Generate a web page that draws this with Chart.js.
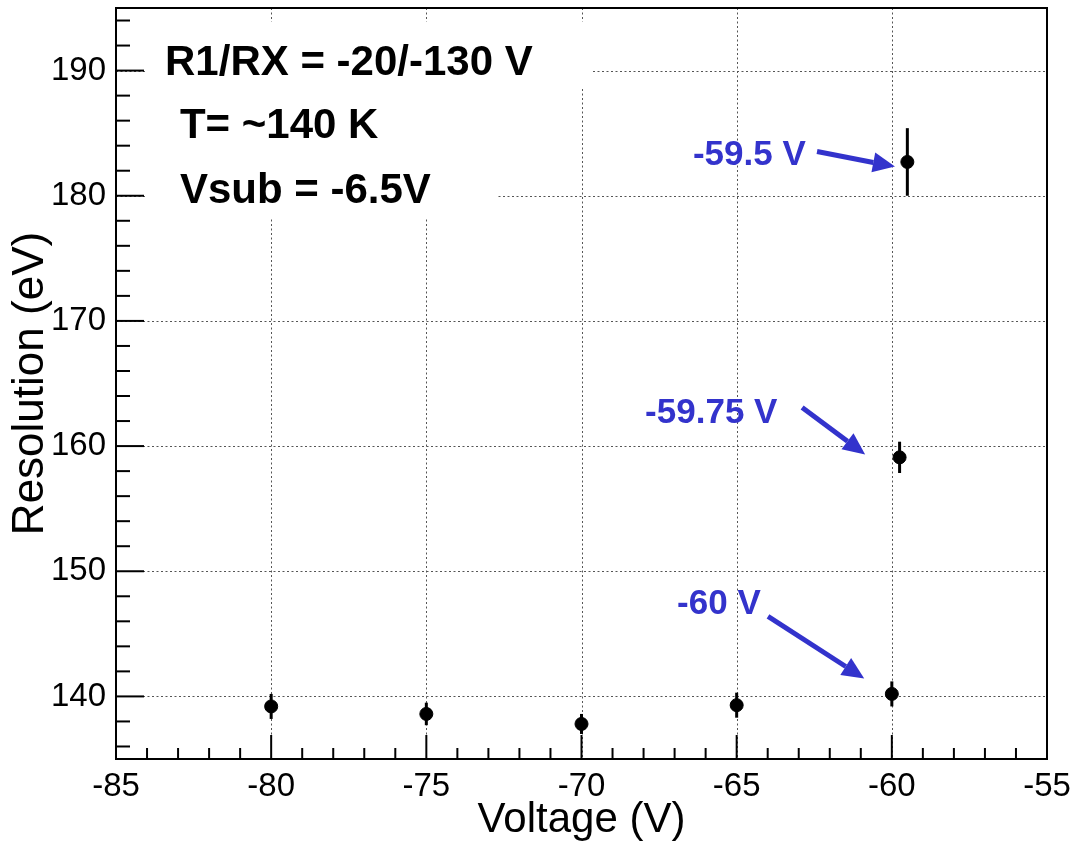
<!DOCTYPE html>
<html>
<head>
<meta charset="utf-8">
<script src="https://cdn.jsdelivr.net/npm/chart.js@4.4.0/dist/chart.umd.min.js"></script>
<style>
  html, body { margin: 0; padding: 0; background: #fff; }
  #wrap { width: 1073px; height: 842px; }
</style>
</head>
<body>
<div id="wrap"><canvas id="myChart"></canvas></div>
<script>
// dados
const voltages = [-80, -75, -70, -65, -60, -59.75, -59.5];
const resolutions = [139.2, 138.6, 137.8, 139.3, 140.2, 159.1, 182.7];
const resolutionErr = [1.0, 0.9, 0.8, 1.0, 1.0, 1.25, 2.7];

const xTicks = [-85, -80, -75, -70, -65, -60, -55];
const yTicks = [140, 150, 160, 170, 180, 190];

const infoLines = ['R1/RX = -20/-130 V', 'T= ~140 K', 'Vsub = -6.5V'];
const pointLabels = ['-59.5 V', '-59.75 V', '-60 V'];

// posicoes das anotacoes (em coordenadas dos eixos)
const infoPos = [[-83.42, 189.68], [-82.94, 184.65], [-82.94, 179.46]];
const whiteBoxes = [[-84.03, 193.9, -69.63, 188.6], [-84.03, 188.6, -72.72, 178.3]];
const labelPos = [[-66.41, 182.49], [-67.95, 161.88], [-66.92, 146.55]];
const arrowFrom = [[-62.41, 183.53], [-62.89, 163.08], [-63.99, 146.39]];
const arrowTo = [[-59.90, 182.33], [-60.86, 159.33], [-60.89, 141.44]];

const FONT = "'Liberation Sans', Arial, Helvetica, sans-serif";
const BLUE = '#3333cc';

const rootStyle = {
    id: 'rootStyle',
    beforeDatasetsDraw(chart) {
        const ctx = chart.ctx;
        const xs = chart.scales.x, ys = chart.scales.y;
        const area = chart.chartArea;
        ctx.save();

        // grade pontilhada
        ctx.strokeStyle = '#555';
        ctx.lineWidth = 1;
        ctx.setLineDash([2, 2.5]);
        xTicks.slice(1, -1).forEach(v => {
            const px = Math.round(xs.getPixelForValue(v)) + 0.5;
            ctx.beginPath(); ctx.moveTo(px, area.top); ctx.lineTo(px, area.bottom); ctx.stroke();
        });
        yTicks.forEach(v => {
            const py = Math.round(ys.getPixelForValue(v)) + 0.5;
            ctx.beginPath(); ctx.moveTo(area.left, py); ctx.lineTo(area.right, py); ctx.stroke();
        });
        ctx.setLineDash([]);

        // caixas brancas atras do texto
        ctx.fillStyle = '#fff';
        whiteBoxes.forEach(b => {
            const x1 = xs.getPixelForValue(b[0]), y1 = ys.getPixelForValue(b[1]);
            const x2 = xs.getPixelForValue(b[2]), y2 = ys.getPixelForValue(b[3]);
            ctx.fillRect(x1, y1, x2 - x1, y2 - y1);
        });

        // texto das condicoes
        ctx.fillStyle = '#000';
        ctx.font = 'bold 42px ' + FONT;
        ctx.textBaseline = 'alphabetic';
        ctx.textAlign = 'left';
        infoLines.forEach((t, i) => {
            ctx.fillText(t, xs.getPixelForValue(infoPos[i][0]), ys.getPixelForValue(infoPos[i][1]));
        });

        // barras de erro
        ctx.strokeStyle = '#000';
        ctx.lineWidth = 3;
        voltages.forEach((v, i) => {
            const px = xs.getPixelForValue(v);
            ctx.beginPath();
            ctx.moveTo(px, ys.getPixelForValue(resolutions[i] - resolutionErr[i]));
            ctx.lineTo(px, ys.getPixelForValue(resolutions[i] + resolutionErr[i]));
            ctx.stroke();
        });
        ctx.restore();
    },
    afterDraw(chart) {
        const ctx = chart.ctx;
        const xs = chart.scales.x, ys = chart.scales.y;
        const area = chart.chartArea;
        ctx.save();

        // rotulos azuis e setas
        ctx.fillStyle = BLUE;
        ctx.strokeStyle = BLUE;
        ctx.font = 'bold 35px ' + FONT;
        ctx.textAlign = 'left';
        ctx.textBaseline = 'alphabetic';
        pointLabels.forEach((t, i) => {
            ctx.fillText(t, xs.getPixelForValue(labelPos[i][0]), ys.getPixelForValue(labelPos[i][1]));
            const x1 = xs.getPixelForValue(arrowFrom[i][0]), y1 = ys.getPixelForValue(arrowFrom[i][1]);
            const x2 = xs.getPixelForValue(arrowTo[i][0]), y2 = ys.getPixelForValue(arrowTo[i][1]);
            const ang = Math.atan2(y2 - y1, x2 - x1);
            const head = 22, half = 10;
            const bx = x2 - head * Math.cos(ang), by = y2 - head * Math.sin(ang);
            ctx.lineWidth = 5;
            ctx.beginPath(); ctx.moveTo(x1, y1); ctx.lineTo(bx, by); ctx.stroke();
            ctx.beginPath();
            ctx.moveTo(x2, y2);
            ctx.lineTo(bx + half * Math.sin(ang), by - half * Math.cos(ang));
            ctx.lineTo(bx - half * Math.sin(ang), by + half * Math.cos(ang));
            ctx.closePath();
            ctx.fill();
        });

        // moldura e marcas dos eixos
        ctx.strokeStyle = '#000';
        ctx.lineWidth = 2;
        ctx.strokeRect(area.left, area.top, area.right - area.left, area.bottom - area.top);
        for (let v = -84; v <= -56; v++) {
            const px = xs.getPixelForValue(v);
            const len = (v % 5 === 0) ? 24 : 11;
            ctx.beginPath(); ctx.moveTo(px, area.bottom); ctx.lineTo(px, area.bottom - len); ctx.stroke();
        }
        for (let v = 136; v <= 194; v += 2) {
            const py = ys.getPixelForValue(v);
            const len = (v % 10 === 0) ? 28 : 14;
            ctx.beginPath(); ctx.moveTo(area.left, py); ctx.lineTo(area.left + len, py); ctx.stroke();
        }
        ctx.restore();
    }
};

const ctx = document.getElementById('myChart').getContext('2d');
new Chart(ctx, {
    type: 'scatter',
    data: {
        datasets: [{
            label: 'Resolution',
            data: voltages.map((v, i) => ({ x: v, y: resolutions[i] })),
            backgroundColor: '#000',
            borderColor: '#000',
            pointRadius: 6.5,
            pointHoverRadius: 6.5,
            showLine: false
        }]
    },
    options: {
        responsive: true,
        maintainAspectRatio: false,
        animation: false,
        layout: { padding: { top: 8, right: 26, left: 0, bottom: 0 } },
        plugins: {
            legend: { display: false },
            tooltip: { enabled: false }
        },
        scales: {
            x: {
                type: 'linear',
                min: -85,
                max: -55,
                afterBuildTicks: s => { s.ticks = xTicks.map(v => ({ value: v })); },
                afterFit: s => { s.height = 83; s.paddingLeft = 0; s.paddingRight = 0; },
                grid: { display: false, drawTicks: false },
                border: { display: false },
                ticks: { color: '#000', padding: 8, font: { family: FONT, size: 33 } },
                title: {
                    display: true,
                    text: 'Voltage (V)',
                    color: '#000',
                    font: { family: FONT, size: 42, lineHeight: 1 },
                    padding: { top: 0, bottom: 1 }
                }
            },
            y: {
                type: 'linear',
                min: 135,
                max: 195,
                afterBuildTicks: s => { s.ticks = yTicks.map(v => ({ value: v })); },
                afterFit: s => { s.width = 116; s.paddingTop = 0; s.paddingBottom = 0; },
                grid: { display: false, drawTicks: false },
                border: { display: false },
                ticks: { color: '#000', padding: 10, font: { family: FONT, size: 33 } },
                title: {
                    display: true,
                    text: 'Resolution (eV)',
                    color: '#000',
                    font: { family: FONT, size: 44, lineHeight: 1 },
                    padding: { top: 9, bottom: 0 }
                }
            }
        }
    },
    plugins: [rootStyle]
});
</script>
</body>
</html>
